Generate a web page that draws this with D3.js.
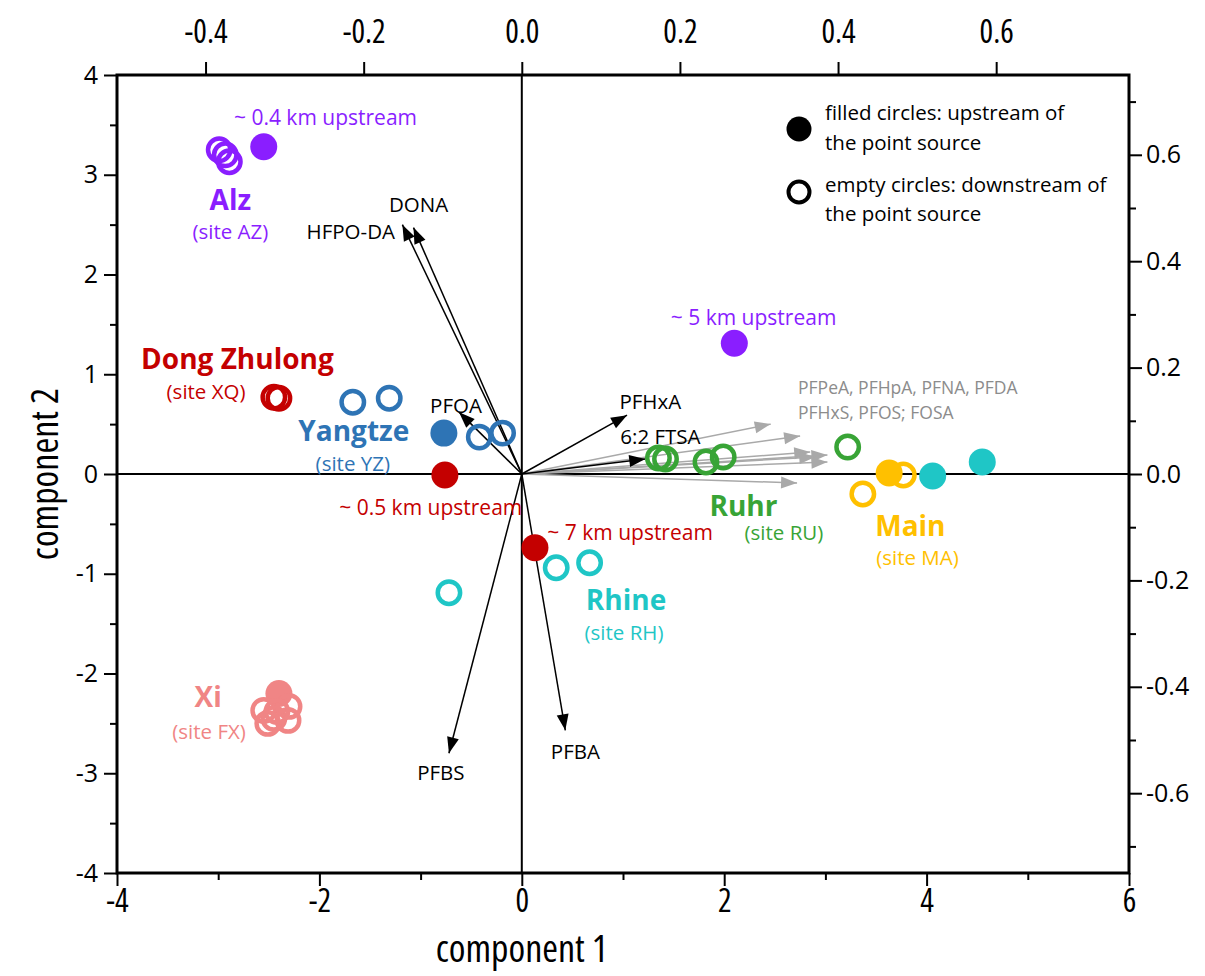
<!DOCTYPE html>
<html><head><meta charset="utf-8">
<script src="https://cdn.jsdelivr.net/npm/d3@7"></script>
<style>
body{margin:0;background:#fff;}
text{font-family:"Open Sans",sans-serif;}
</style></head>
<body><svg id="c" width="1205" height="976"></svg>
<script>
// ---- data ----
const groups = ["Alz","Dong Zhulong","Yangtze","Rhine","Ruhr","Main","Xi"];
const groupColors = ["#8a1eff","#c40000","#2e74b5","#1fc6c6","#38a436","#ffc000","#f08585"];
const siteLabels = ["(site AZ)","(site XQ)","(site YZ)","(site RH)","(site RU)","(site MA)","(site FX)"];

const pointGroup = ["Alz","Alz","Alz","Alz","Alz",
  "Dong Zhulong","Dong Zhulong","Dong Zhulong","Dong Zhulong",
  "Yangtze","Yangtze","Yangtze","Yangtze","Yangtze",
  "Rhine","Rhine","Rhine","Rhine","Rhine",
  "Ruhr","Ruhr","Ruhr","Ruhr","Ruhr",
  "Main","Main","Main",
  "Xi","Xi","Xi","Xi","Xi","Xi","Xi"];
const pointC1 = [-2.55,-2.99,-2.93,-2.89,2.10,
  -2.45,-2.40,-0.76,0.13,
  -1.67,-1.31,-0.42,-0.19,-0.77,
  0.34,0.67,-0.72,4.06,4.55,
  1.35,1.42,1.82,1.99,3.22,
  3.63,3.77,3.37,
  -2.40,-2.55,-2.45,-2.30,-2.31,-2.51,-2.42];
const pointC2 = [3.28,3.25,3.20,3.13,1.31,
  0.77,0.76,-0.01,-0.74,
  0.72,0.76,0.37,0.41,0.41,
  -0.94,-0.89,-1.19,-0.02,0.12,
  0.16,0.15,0.12,0.17,0.27,
  0.01,-0.01,-0.20,
  -2.20,-2.37,-2.45,-2.33,-2.47,-2.50,-2.38];
const pointUpstream = [true,false,false,false,true,
  false,false,true,true,
  false,false,false,false,true,
  false,false,false,true,true,
  false,false,false,false,false,
  true,false,false,
  true,false,false,false,false,false,false];

const loadingNames = ["HFPO-DA","DONA","PFOA","PFHxA","6:2 FTSA","PFBA","PFBS",
  "PFPeA","PFHpA","PFNA","PFDA","PFHxS","PFOS","FOSA"];
const loadingC1 = [-1.18,-1.07,-0.62,1.04,1.22,0.43,-0.72,2.46,2.75,2.85,3.02,3.02,2.90,2.72];
const loadingC2 = [2.50,2.47,0.62,0.59,0.15,-2.57,-2.80,0.50,0.38,0.22,0.19,0.12,0.17,-0.09];
const loadingHighlighted = [true,true,true,true,true,true,true,false,false,false,false,false,false,false];

const bottomTicks = [-4,-2,0,2,4,6];
const leftTicks = [-4,-3,-2,-1,0,1,2,3,4];
const topTicks = [-0.4,-0.2,0.0,0.2,0.4,0.6];
const rightTicks = [-0.6,-0.4,-0.2,0.0,0.2,0.4,0.6];

// annotation texts (anchored in component units)
const annTexts = ["~ 0.4 km upstream","~ 5 km upstream","~ 0.5 km upstream","~ 7 km upstream"];
const annColors = [0,0,1,1];
const annX = [-1.94,2.29,-0.90,1.07];
const annY = [3.57,1.57,-0.34,-0.59];
const groupLabelX = [-2.88,-2.81,-1.66,1.03,2.19,3.84,-3.10];
const groupLabelY = [2.74,1.15,0.43,-1.27,-0.32,-0.52,-2.24];
const siteLabelX = [-2.88,-3.12,-1.67,1.01,2.59,3.91,-3.09];
const siteLabelY = [2.43,0.82,0.10,-1.59,-0.59,-0.84,-2.58];
const loadLabelText = ["HFPO-DA","DONA","PFOA","PFHxA","6:2 FTSA","PFBA","PFBS"];
const loadLabelX = [-1.69,-1.02,-0.65,1.27,1.37,0.53,-0.80];
const loadLabelY = [2.43,2.70,0.68,0.72,0.37,-2.79,-3.00];
const grayLabelLines = ["PFPeA, PFHpA, PFNA, PFDA","PFHxS, PFOS; FOSA"];

// ---- chart ----
const svg = d3.select("#c");
const L=117,R=1129,T=75,B=873;
const x = d3.scaleLinear().domain([-4,6]).range([L,R]);
const y = d3.scaleLinear().domain([-4,4]).range([B,T]);
const xTop = d3.scaleLinear().domain([-0.512,0.768]).range([L,R]);
const yRight = d3.scaleLinear().domain([-0.75,0.75]).range([B,T]);
const hy = f => (d => f(d).replace("\u2212","-"));

const defs = svg.append("defs");
function marker(id,color){
  defs.append("marker").attr("id",id).attr("markerUnits","userSpaceOnUse")
   .attr("viewBox","-18 -8 20 16").attr("refX",0).attr("refY",0)
   .attr("markerWidth",20).attr("markerHeight",16).attr("orient","auto")
   .append("path").attr("d","M0,0 L-16,-6 L-16,6 Z").attr("fill",color);
}
marker("ab","#000"); marker("ag","#a9a9a9");

// zero lines
svg.append("line").attr("x1",L).attr("x2",R).attr("y1",y(0)).attr("y2",y(0)).attr("stroke","#000").attr("stroke-width",2);
svg.append("line").attr("x1",x(0)).attr("x2",x(0)).attr("y1",T).attr("y2",B).attr("stroke","#000").attr("stroke-width",2);

// axes
function styleAxis(g,font,size,stretch){
  g.select(".domain").remove();
  g.selectAll(".tick line").attr("stroke","#000").attr("stroke-width",2);
  g.selectAll("text").attr("font-family",font).attr("font-size",size).attr("fill","#000").style("font-stretch",stretch);
}
function minor(g){g.select(".domain").remove();g.selectAll("line").attr("stroke","#000").attr("stroke-width",2);}

const gB = svg.append("g").attr("transform",`translate(0,${B})`)
  .call(d3.axisBottom(x).tickValues(bottomTicks).tickFormat(hy(d3.format("d"))).tickSize(13).tickPadding(3));
styleAxis(gB,"Open Sans",32,"condensed");
svg.append("g").attr("transform",`translate(0,${B})`)
  .call(d3.axisBottom(x).tickValues([-3,-1,1,3,5]).tickFormat("").tickSize(7)).call(minor);

const gL = svg.append("g").attr("transform",`translate(${L},0)`)
  .call(d3.axisLeft(y).tickValues(leftTicks).tickFormat(hy(d3.format("d"))).tickSize(13).tickPadding(6));
styleAxis(gL,"DejaVu Sans",25,"normal");
svg.append("g").attr("transform",`translate(${L},0)`)
  .call(d3.axisLeft(y).tickValues(d3.range(-3.5,4,1)).tickFormat("").tickSize(7)).call(minor);

const gT = svg.append("g").attr("transform",`translate(0,${T})`)
  .call(d3.axisTop(xTop).tickValues(topTicks).tickFormat(hy(d3.format(".1f"))).tickSize(13).tickPadding(19));
styleAxis(gT,"Open Sans",32,"condensed");

const gR = svg.append("g").attr("transform",`translate(${R},0)`)
  .call(d3.axisRight(yRight).tickValues(rightTicks).tickFormat(hy(d3.format(".1f"))).tickSize(13).tickPadding(4));
styleAxis(gR,"DejaVu Sans",25,"normal");
svg.append("g").attr("transform",`translate(${R},0)`)
  .call(d3.axisRight(yRight).tickValues([-0.7,-0.5,-0.3,-0.1,0.1,0.3,0.5,0.7]).tickFormat("").tickSize(7)).call(minor);

// frame
svg.append("rect").attr("x",L).attr("y",T).attr("width",R-L).attr("height",B-T)
  .attr("fill","none").attr("stroke","#000").attr("stroke-width",3);

// axis titles
svg.append("text").attr("x",x(0)).attr("y",962).attr("text-anchor","middle")
  .attr("font-size",38).style("font-stretch","condensed").text("component 1");
svg.append("text").attr("transform",`translate(58,${y(0)}) rotate(-90)`).attr("text-anchor","middle")
  .attr("font-size",38).style("font-stretch","condensed").text("component 2");

// loadings
const loadings = loadingNames.map((n,i)=>({n,c1:loadingC1[i],c2:loadingC2[i],h:loadingHighlighted[i]}));
svg.append("g").selectAll("line").data(loadings.filter(d=>!d.h)).join("line")
  .attr("x1",x(0)).attr("y1",y(0)).attr("x2",d=>x(d.c1)).attr("y2",d=>y(d.c2))
  .attr("stroke","#a9a9a9").attr("stroke-width",1.5).attr("marker-end","url(#ag)");
svg.append("g").selectAll("line").data(loadings.filter(d=>d.h)).join("line")
  .attr("x1",x(0)).attr("y1",y(0)).attr("x2",d=>x(d.c1)).attr("y2",d=>y(d.c2))
  .attr("stroke","#000").attr("stroke-width",1.5).attr("marker-end","url(#ab)");

// points
const pts = pointGroup.map((g,i)=>({g,c1:pointC1[i],c2:pointC2[i],up:pointUpstream[i],col:groupColors[groups.indexOf(g)]}));
const gp = svg.append("g");
gp.selectAll("circle.f").data(pts.filter(d=>d.up)).join("circle").attr("class","f")
  .attr("cx",d=>x(d.c1)).attr("cy",d=>y(d.c2)).attr("r",13.5)
  .attr("fill",d=>d.col);
gp.selectAll("circle.o").data(pts.filter(d=>!d.up)).join("circle").attr("class","o")
  .attr("cx",d=>x(d.c1)).attr("cy",d=>y(d.c2)).attr("r",11.2)
  .attr("fill","none").attr("stroke",d=>d.col).attr("stroke-width",4.5);

// group labels
const gl = svg.append("g");
groups.forEach((g,i)=>{
  gl.append("text").attr("x",x(groupLabelX[i])).attr("y",y(groupLabelY[i])).attr("dy","0.35em")
    .attr("text-anchor","middle").attr("font-weight","bold").attr("font-size",28)
    .attr("fill",groupColors[i]).text(g);
  gl.append("text").attr("x",x(siteLabelX[i])).attr("y",y(siteLabelY[i])).attr("dy","0.35em")
    .attr("text-anchor","middle").attr("font-size",20.5)
    .attr("fill",groupColors[i]).text(siteLabels[i]);
});
annTexts.forEach((t,i)=>{
  gl.append("text").attr("x",x(annX[i])).attr("y",y(annY[i])).attr("dy","0.35em")
    .attr("text-anchor","middle").attr("font-size",21)
    .attr("fill",groupColors[annColors[i]]).text(t);
});
loadLabelText.forEach((t,i)=>{
  gl.append("text").attr("x",x(loadLabelX[i])).attr("y",y(loadLabelY[i])).attr("dy","0.35em")
    .attr("text-anchor","middle").attr("font-size",20.5).attr("fill","#000").text(t);
});
grayLabelLines.forEach((t,i)=>{
  gl.append("text").attr("x",x(2.73)).attr("y",y(0.86-0.25*i)).attr("dy","0.35em")
    .attr("font-size",17.5).attr("fill","#8c8c8c").text(t);
});

// legend
const lg = svg.append("g");
lg.append("circle").attr("cx",799).attr("cy",129).attr("r",12.5).attr("fill","#000");
lg.append("circle").attr("cx",799).attr("cy",192).attr("r",10.5).attr("fill","none").attr("stroke","#000").attr("stroke-width",4);
const legLines = [["filled circles: upstream of",113],["the point source",143],["empty circles: downstream of",185],["the point source",214]];
legLines.forEach(([t,yy])=>lg.append("text").attr("x",825).attr("y",yy).attr("dy","0.35em").attr("font-size",20.5).attr("fill","#000").text(t));
</script></body></html>
